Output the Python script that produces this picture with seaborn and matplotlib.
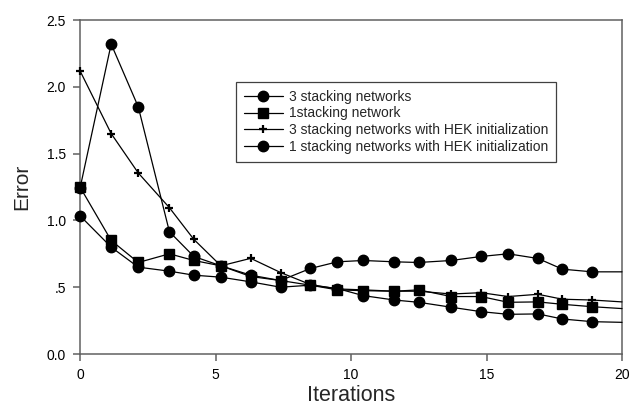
import matplotlib
matplotlib.use("Agg")
import matplotlib.pyplot as plt
from matplotlib.lines import Line2D
import seaborn as sns
import pandas as pd

iterations = [0, 1.15, 2.15, 3.3, 4.2, 5.2, 6.3, 7.4, 8.5, 9.5, 10.45,
              11.6, 12.5, 13.7, 14.8, 15.8, 16.9, 17.8, 18.9, 20]
three_stacking = [1.24, 2.32, 1.85, 0.915, 0.73, 0.66, 0.59, 0.55, 0.64, 0.69, 0.70,
                  0.69, 0.685, 0.70, 0.73, 0.75, 0.715, 0.635, 0.615, 0.615]
one_stacking = [1.25, 0.85, 0.685, 0.75, 0.70, 0.66, 0.58, 0.55, 0.515, 0.48, 0.474,
                0.47, 0.48, 0.43, 0.43, 0.387, 0.39, 0.372, 0.354, 0.34]
three_stacking_hek = [2.12, 1.65, 1.355, 1.095, 0.858, 0.66, 0.716, 0.61, 0.52, 0.487, 0.48,
                      0.47, 0.47, 0.449, 0.459, 0.43, 0.447, 0.41, 0.404, 0.39]
one_stacking_hek = [1.035, 0.80, 0.65, 0.62, 0.59, 0.575, 0.54, 0.50, 0.515, 0.49, 0.437,
                    0.404, 0.387, 0.35, 0.317, 0.297, 0.30, 0.262, 0.242, 0.237]

labels = ["3 stacking networks", "1stacking network",
          "3 stacking networks with HEK initialization",
          "1 stacking networks with HEK initialization"]
series = [three_stacking, one_stacking, three_stacking_hek, one_stacking_hek]
markers = ["o", "s", "+", "o"]
msizes = [7.5, 6.5, 5.5, 7.5]
mews = [1.0, 1.0, 1.6, 1.0]

xticks = [0, 5, 10, 15, 20]
yticks = [0.0, 0.5, 1.0, 1.5, 2.0, 2.5]
ytick_labels = ["0.0", ".5", "1.0", "1.5", "2.0", "2.5"]

sns.set_style("ticks")
plt.rcParams["font.family"] = ["Liberation Sans", "DejaVu Sans"]

fig = plt.figure(figsize=(6.38, 4.08), dpi=100)
ax = fig.add_axes([80 / 638, 1 - 354 / 408, 542 / 638, 334 / 408])

spine_col = "#606060"
n = len(iterations)
for lab, ys, m, ms, mew in zip(labels, series, markers, msizes, mews):
    df = pd.DataFrame({"Iterations": iterations, "Error": ys})
    sns.lineplot(data=df, x="Iterations", y="Error", ax=ax, color="black",
                 linewidth=0.9, marker=m, markersize=ms, markeredgewidth=mew,
                 markeredgecolor="black", markerfacecolor="black",
                 markevery=list(range(n - 1)), clip_on=False, zorder=3)

ax.set_xlim(0, 20)
ax.set_ylim(0, 2.5)
ax.set_xticks(xticks)
ax.set_xticklabels([str(t) for t in xticks])
ax.set_yticks(yticks)
ax.set_yticklabels(ytick_labels)
ax.tick_params(axis="both", direction="out", length=5, width=1.1,
               color=spine_col, labelsize=10, labelcolor="black")
ax.tick_params(axis="y", pad=5)
ax.tick_params(axis="x", pad=5)
for s in ax.spines.values():
    s.set_visible(True)
    s.set_color(spine_col)
    s.set_linewidth(1.1)

ax.set_xlabel("Iterations", fontsize=15.5, labelpad=2)
ax.set_ylabel("Error", fontsize=15, labelpad=11)

handles = [Line2D([], [], color="black", linewidth=0.9, marker=m, markersize=ms,
                  markeredgewidth=mew, markerfacecolor="black", markeredgecolor="black")
           for m, ms, mew in zip(markers, msizes, mews)]
leg = ax.legend(handles, labels, loc="upper left",
                bbox_to_anchor=(236 / 638, 1 - 82 / 408),
                bbox_transform=fig.transFigure, borderaxespad=0,
                fontsize=10, frameon=True, fancybox=False, framealpha=1,
                edgecolor="#404040", handlelength=2.8, handletextpad=0.5,
                labelspacing=0.2, borderpad=0.55)
leg.get_frame().set_linewidth(0.9)

fig.savefig("out.png", dpi=100)
